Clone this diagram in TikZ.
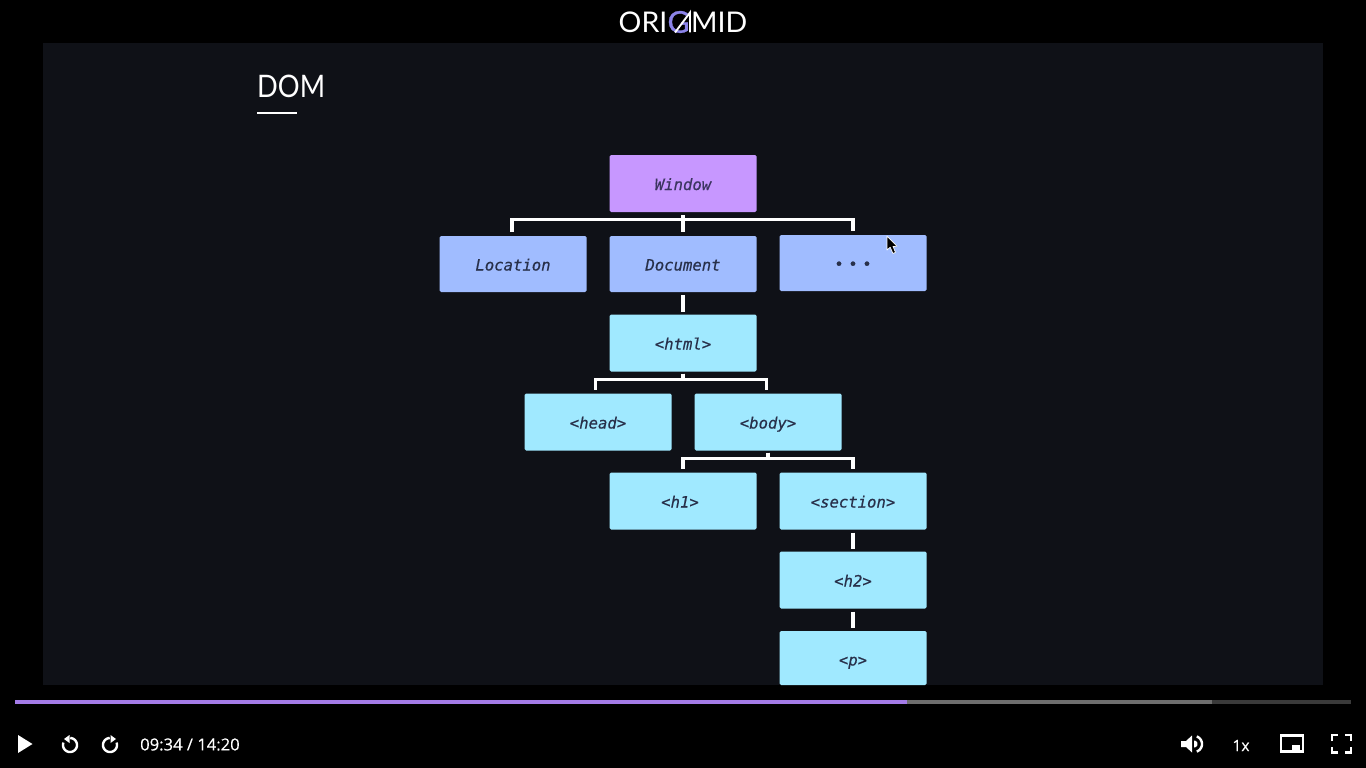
\documentclass[tikz,border=0pt]{standalone}
\usepackage{fontspec}
\setmainfont{Lato}
\newfontfamily\boxfont[FakeBold=0.4]{DejaVu Sans Mono}
\newfontfamily\uifont[FakeBold=0.25]{Open Sans}
\definecolor{panelbg}{HTML}{0F1117}
\definecolor{purplebox}{HTML}{C797FF}
\definecolor{bluebox}{HTML}{A0BCFF}
\definecolor{cyanbox}{HTML}{A0E9FF}
\definecolor{boxink}{HTML}{28304A}
\definecolor{windowink}{HTML}{3C3560}
\definecolor{played}{HTML}{A47CE8}
\definecolor{buffered}{HTML}{6E6E6E}
\definecolor{track}{HTML}{3A3A3A}
\definecolor{logoviolet}{HTML}{8C84E8}
\tikzset{
  domnode/.style={rectangle,rounded corners=1.5pt,minimum width=147pt,minimum height=57pt,
    inner sep=0pt,outer sep=0pt,text=boxink,
    font=\boxfont\itshape\fontsize{15.6}{18}\selectfont,text height=14pt,text depth=1pt},
  windowbox/.style={domnode,fill=purplebox,text=windowink},
  apibox/.style={domnode,fill=bluebox},
  tagbox/.style={domnode,fill=cyanbox},
  wire/.style={draw=white,line width=3.4pt},
  wirefork/.style={wire,shorten <=3pt,shorten >=4pt,line join=miter},
  wirelink/.style={wire,shorten <=3pt,shorten >=3pt},
  icon/.style={draw=white,line width=2.4pt},
  iconfill/.style={fill=white},
  uilabel/.style={text=white,inner sep=0pt,font=\uifont\fontsize{16.6}{18}\selectfont},
  logotext/.style={text=white,inner sep=0pt,font=\fontsize{28.5}{32}\selectfont},
}
\begin{document}
\begin{tikzpicture}[x=1pt,y=-1pt]
\useasboundingbox (0,0) rectangle (1366,768);
\fill[black] (0,0) rectangle (1366,768);
\fill[panelbg] (43,43) rectangle (1323,685);

% logo
\node[logotext,anchor=west] (logoa) at (618.5,22) {ORI};
\node[logotext,anchor=center,text=logoviolet,font=\addfontfeature{FakeBold=1}\fontsize{30}{32}\selectfont] (logog) at (678.5,22) {G};
\node[logotext,anchor=east] (logob) at (747.5,22) {MID};
\draw[white,line width=1.9pt] (675,32.5) -- (690,12.5) -- (690,32.5);

% title
\node[anchor=west,text=white,inner sep=0pt,font=\addfontfeature{FakeStretch=0.88}\fontsize{31}{34}\selectfont] (title) at (257,86.5) {DOM};
\coordinate (ula) at (257,113);
\coordinate (ulb) at (297,113);
\draw[white,line width=2pt] (ula) -- (ulb);

% boxes
\node[windowbox] (window) at (683,183.5) {Window};
\node[apibox,minimum height=56pt] (location) at (513,264) {Location};
\node[apibox,minimum height=56pt] (document) at (683,264) {Document};
\node[apibox,minimum height=56pt] (more) at (853,263) {\upshape •\kern4.6pt•\kern4.6pt•};
\node[tagbox] (html) at (683,343) {<html>};
\node[tagbox] (head) at (598,422) {<head>};
\node[tagbox] (body) at (768,422) {<body>};
\node[tagbox] (h1) at (683,501) {<h1>\kern6pt};
\node[tagbox] (section) at (853,501) {<section>};
\node[tagbox] (h2) at (853,580) {<h2>};
\node[tagbox,minimum height=54pt,text height=15pt,text depth=0pt] (p) at (853,658) {<p>};

% connectors
\draw[wirefork] (window.south) -- ++(0,7.5) -| ([xshift=-1pt]location.north);
\draw[wirefork] (window.south) -- (window.south |- document.north);
\draw[wirefork] (window.south) -- ++(0,7.5) -| (more.north);
\draw[wirelink] (document.south) -- (html.north);
\draw[wirefork,shorten <=2pt] (html.south) -- ++(0,8) -| ([xshift=-2.5pt]head.north);
\draw[wirefork,shorten <=2pt] (html.south) -- ++(0,8) -| ([xshift=-1.5pt]body.north);
\draw[wirefork,shorten <=2pt] (body.south) -- ++(0,8) -| (h1.north);
\draw[wirefork,shorten <=2pt] (body.south) -- ++(0,8) -| (section.north);
\draw[wirelink] (section.south) -- (h2.north);
\draw[wirelink] (h2.south) -- (p.north);

% mouse cursor
\fill[black,draw=white,line width=.7pt,line join=round] (887,236) -- (887,250) -- (890.2,247.3) -- (893,253.5) -- (895.5,252.3) -- (893,246.5) -- (897,246.3) -- cycle;

% progress bar
\coordinate (tra) at (15,702);
\coordinate (trb) at (1351,702);
\coordinate (trc) at (1212,702);
\coordinate (trd) at (907,702);
\draw[track,line width=4pt] (tra) -- (trb);
\draw[buffered,line width=4pt] (tra) -- (trc);
\draw[played,line width=4pt] (tra) -- (trd);

% play
\fill[iconfill] (18,735) -- (32.5,744) -- (18,753) -- cycle;
% back
\draw[icon] plot[smooth,samples=30,domain=-88:200] ({70+7*cos(\x)},{745+7*sin(\x)});
\fill[iconfill] (64,739) -- (69.5,735) -- (69.5,743) -- cycle;
% forward
\draw[icon] plot[smooth,samples=30,domain=-88:200] ({110-7*cos(\x)},{745+7*sin(\x)});
\fill[iconfill] (116,739) -- (110.5,735) -- (110.5,743) -- cycle;
% time
\node[uilabel,anchor=west] (time) at (140,744.5) {09:34 / 14:20};

% volume
\fill[iconfill] (1181,741) -- (1186,741) -- (1192,735.5) -- (1192,752.5) -- (1186,747) -- (1181,747) -- cycle;
\draw[icon] plot[smooth,samples=20,domain=-70:70] ({1194+8*cos(\x)},{744+8*sin(\x)});
\fill[iconfill] plot[smooth,samples=12,domain=-90:90] ({1194+3.5*cos(\x)},{744+3.5*sin(\x)}) -- cycle;
% speed
\node[uilabel,font=\uifont\fontsize{15.5}{18}\selectfont] (speed) at (1241,745.5) {1x};
% picture in picture
\draw[white,line width=2.2pt] (1281,735.5) rectangle (1303,751.5);
\fill[iconfill] (1292,745) rectangle (1300,749.5);
% fullscreen
\draw[icon] (1332,741) -- (1332,735) -- (1338,735);
\draw[icon] (1345,735) -- (1351,735) -- (1351,741);
\draw[icon] (1351,747) -- (1351,752.5) -- (1345,752.5);
\draw[icon] (1338,752.5) -- (1332,752.5) -- (1332,747);
\end{tikzpicture}
\end{document}
